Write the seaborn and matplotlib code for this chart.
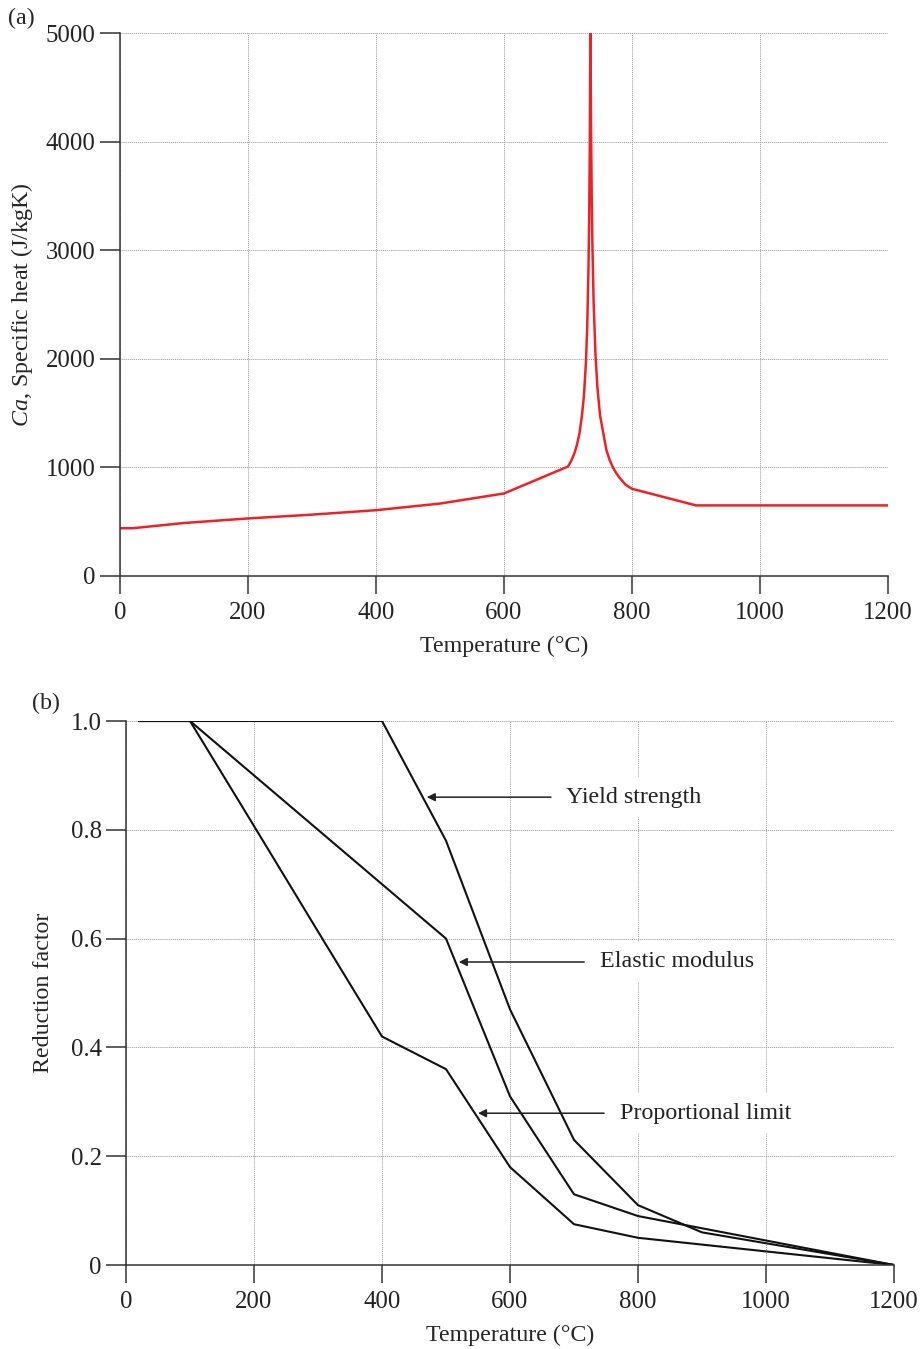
import matplotlib
matplotlib.use("Agg")
import matplotlib.pyplot as plt
import seaborn as sns
import pandas as pd

# (a) specific heat of steel
heat_temp = [0, 20, 100, 200, 300, 400, 500, 600, 700, 705, 710, 714, 718, 722, 725,
             728, 730, 732, 733, 734, 735, 736, 737, 738, 740, 743, 746, 750, 755,
             760, 765, 770, 775, 780, 790, 800, 900, 1000, 1100, 1200]
heat_value = [440, 440, 488, 530, 565, 606, 667, 760, 1008, 1060, 1130, 1208, 1315, 1488, 1666,
              1966, 2291, 2833, 3266, 3917, 5000, 4109, 3515, 3091, 2525, 2030, 1733, 1483, 1320,
              1160, 1069, 1002, 950, 909, 840, 803, 650, 650, 650, 650]

# (b) reduction factors
red_temp = [20, 100, 200, 300, 400, 500, 600, 700, 800, 900, 1000, 1100, 1200]
yield_strength = [1.0, 1.0, 1.0, 1.0, 1.0, 0.78, 0.47, 0.23, 0.11, 0.06, 0.04, 0.02, 0.0]
elastic_modulus = [1.0, 1.0, 0.9, 0.8, 0.7, 0.6, 0.31, 0.13, 0.09, 0.0675, 0.045, 0.0225, 0.0]
proportional_limit = [1.0, 1.0, 0.807, 0.613, 0.42, 0.36, 0.18, 0.075, 0.05, 0.0375, 0.025, 0.0125, 0.0]

heat_ticks_x = [0, 200, 400, 600, 800, 1000, 1200]
heat_ticks_y = [0, 1000, 2000, 3000, 4000, 5000]
red_ticks_y = [0, 0.2, 0.4, 0.6, 0.8, 1.0]
red_ticklabels_y = ["0", "0.2", "0.4", "0.6", "0.8", "1.0"]

sns.set_style("white")
plt.rcParams["font.family"] = ["Liberation Serif", "DejaVu Serif"]
plt.rcParams["mathtext.fontset"] = "custom"
plt.rcParams["mathtext.it"] = "Liberation Serif:italic"
plt.rcParams["mathtext.rm"] = "Liberation Serif"

FS = 17.3
TFS = 17.8
fig = plt.figure(figsize=(9.22, 13.49), dpi=100)
ax1 = fig.add_axes([120 / 922, 1 - 576 / 1349, 768 / 922, 543 / 1349])
ax2 = fig.add_axes([126 / 922, 1 - 1265 / 1349, 768 / 922, 544 / 1349])


def style_axes(ax):
    for side in ["top", "right"]:
        ax.spines[side].set_visible(False)
    for side in ["left", "bottom"]:
        ax.spines[side].set_color("#333333")
        ax.spines[side].set_linewidth(1.1)
    ax.grid(True, color="#999999", linestyle=(0, (1, 1)), linewidth=0.7)
    ax.tick_params(axis="y", direction="out", length=14.5, width=1.1, color="#333333",
                   labelsize=TFS, pad=3, left=True)
    ax.tick_params(axis="x", direction="out", length=13, width=1.1, color="#333333",
                   labelsize=TFS, pad=6, bottom=True)
    for t in ax.get_xticklabels() + ax.get_yticklabels():
        t.set_color("#222222")


# ---- (a) ----
heat_df = pd.DataFrame({"T": heat_temp, "C": heat_value})
sns.lineplot(data=heat_df, x="T", y="C", ax=ax1, color="#ec2227", linewidth=1.8,
             estimator=None, sort=False)
ax1.set_xlim(0, 1200)
ax1.set_ylim(0, 5000)
ax1.set_xticks(heat_ticks_x)
ax1.set_yticks(heat_ticks_y)
ax1.set_xlabel("Temperature (°C)", fontsize=FS, labelpad=8)
ax1.set_ylabel("$Ca$, Specific heat (J/kgK)", fontsize=FS, labelpad=8)
style_axes(ax1)
fig.text(8 / 922, 1 - 18 / 1349, "(a)", fontsize=FS, va="center", ha="left")

# ---- (b) ----
red_df = pd.DataFrame({
    "T": red_temp * 3,
    "k": yield_strength + elastic_modulus + proportional_limit,
    "prop": ["Yield strength"] * 13 + ["Elastic modulus"] * 13 + ["Proportional limit"] * 13,
})
sns.lineplot(data=red_df, x="T", y="k", hue="prop", ax=ax2, estimator=None, sort=False,
             palette=["#111111"] * 3, linewidth=1.5, legend=False)
ax2.set_xlim(0, 1200)
ax2.set_ylim(0, 1.0)
ax2.set_xticks(heat_ticks_x)
ax2.set_yticks(red_ticks_y)
ax2.set_yticklabels(red_ticklabels_y)
ax2.set_xlabel("Temperature (°C)", fontsize=FS, labelpad=8)
ax2.set_ylabel("Reduction factor", fontsize=FS, labelpad=12)
style_axes(ax2)
fig.text(32 / 922, 1 - 703 / 1349, "(b)", fontsize=FS, va="center", ha="left")

labels = [("Yield strength", 470, 664, 688, 0.86),
          ("Elastic modulus", 520, 716, 741, 0.557),
          ("Proportional limit", 550, 747, 772, 0.279)]
for text, tip_x, tail_x, text_x, y in labels:
    ax2.annotate("", xy=(tip_x, y), xytext=(tail_x, y),
                 arrowprops=dict(arrowstyle="-|>", color="#222222", lw=1.1,
                                 mutation_scale=12, shrinkA=0, shrinkB=0))
    ax2.text(text_x, y, text, fontsize=FS, va="center", ha="left", color="#222222",
             bbox=dict(boxstyle="square,pad=0.4", fc="white", ec="none"))

fig.savefig("out.png", dpi=100)
